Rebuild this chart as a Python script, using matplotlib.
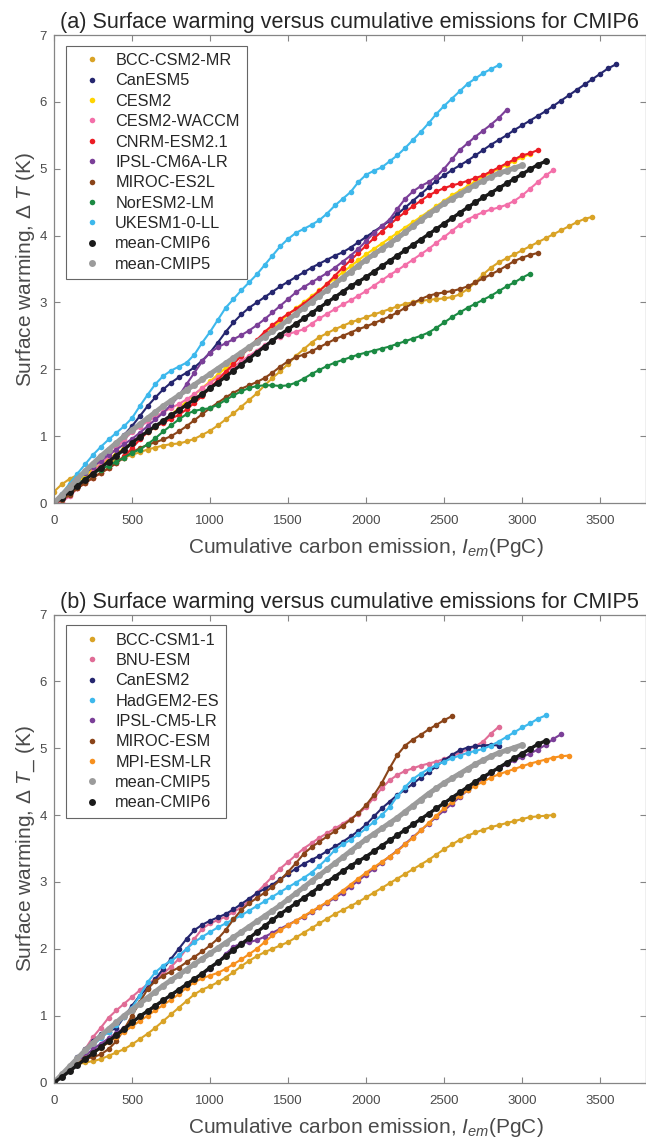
import matplotlib
matplotlib.use("Agg")
import matplotlib.pyplot as plt

plt.rcParams['font.family'] = ['Liberation Sans', 'DejaVu Sans']
plt.rcParams['mathtext.fontset'] = 'custom'
plt.rcParams['mathtext.rm'] = 'Liberation Sans'
plt.rcParams['mathtext.it'] = 'Liberation Sans:italic'

# ---------------- data ----------------
# cumulative carbon emission grid (PgC); each series uses its first len(y) entries
emission_grid = [0, 50, 100, 150, 200, 250, 300, 350, 400, 450, 500, 550, 600, 650, 700, 750,
                 800, 850, 900, 950, 1000, 1050, 1100, 1150, 1200, 1250, 1300, 1350, 1400, 1450,
                 1500, 1550, 1600, 1650, 1700, 1750, 1800, 1850, 1900, 1950, 2000, 2050, 2100,
                 2150, 2200, 2250, 2300, 2350, 2400, 2450, 2500, 2550, 2600, 2650, 2700, 2750,
                 2800, 2850, 2900, 2950, 3000, 3050, 3100, 3150, 3200, 3250, 3300, 3350, 3400,
                 3450, 3500, 3550, 3600]

# Panel (a): CMIP6 models, warming (K)
bcc_csm2_mr = [0.17, 0.28, 0.36, 0.42, 0.46, 0.5, 0.55, 0.6, 0.64, 0.68, 0.72, 0.76, 0.8, 0.83,
               0.86, 0.88, 0.89, 0.92, 0.96, 1.02, 1.08, 1.16, 1.25, 1.34, 1.44, 1.54, 1.64, 1.76,
               1.87, 1.97, 2.08, 2.2, 2.3, 2.4, 2.48, 2.54, 2.6, 2.65, 2.7, 2.74, 2.78, 2.82, 2.86,
               2.9, 2.94, 2.98, 3.0, 3.02, 3.04, 3.05, 3.06, 3.08, 3.12, 3.2, 3.3, 3.42, 3.52, 3.6,
               3.66, 3.72, 3.78, 3.84, 3.9, 3.96, 4.02, 4.08, 4.14, 4.2, 4.25, 4.28]
canesm5 = [0, 0.1, 0.22, 0.33, 0.44, 0.55, 0.66, 0.78, 0.9, 1.02, 1.15, 1.3, 1.45, 1.58, 1.7,
           1.8, 1.88, 1.95, 2.03, 2.13, 2.25, 2.4, 2.56, 2.7, 2.82, 2.92, 3.0, 3.08, 3.16, 3.24,
           3.31, 3.38, 3.45, 3.52, 3.58, 3.64, 3.7, 3.75, 3.82, 3.9, 3.98, 4.06, 4.14, 4.22, 4.32,
           4.42, 4.52, 4.62, 4.72, 4.82, 4.9, 4.98, 5.05, 5.12, 5.2, 5.28, 5.36, 5.43, 5.5, 5.58,
           5.65, 5.72, 5.79, 5.86, 5.94, 6.02, 6.1, 6.18, 6.26, 6.34, 6.42, 6.5, 6.56]
cesm2 = [0, 0.1, 0.2, 0.3, 0.4, 0.5, 0.58, 0.66, 0.74, 0.82, 0.9, 0.98, 1.06, 1.14, 1.22, 1.32,
         1.42, 1.52, 1.62, 1.72, 1.82, 1.92, 2.02, 2.12, 2.22, 2.32, 2.42, 2.52, 2.62, 2.72, 2.82,
         2.91, 3.0, 3.09, 3.18, 3.27, 3.36, 3.45, 3.54, 3.63, 3.72, 3.8, 3.88, 3.96, 4.04, 4.12,
         4.2, 4.28, 4.36, 4.44, 4.52, 4.6, 4.67, 4.74, 4.81, 4.88, 4.94, 5.0, 5.06, 5.12, 5.17,
         5.22]
cesm2_waccm = [0, 0.02, 0.1, 0.22, 0.35, 0.47, 0.58, 0.7, 0.82, 0.95, 1.06, 1.14, 1.22, 1.29,
               1.36, 1.42, 1.48, 1.55, 1.63, 1.72, 1.8, 1.88, 1.96, 2.04, 2.12, 2.2, 2.28, 2.36,
               2.43, 2.49, 2.53, 2.56, 2.6, 2.68, 2.76, 2.83, 2.9, 2.97, 3.03, 3.1, 3.17, 3.25,
               3.33, 3.41, 3.48, 3.56, 3.64, 3.72, 3.8, 3.89, 3.98, 4.07, 4.16, 4.24, 4.3, 4.35,
               4.39, 4.42, 4.46, 4.52, 4.6, 4.7, 4.8, 4.9, 4.98]
cnrm_esm2_1 = [0, 0.06, 0.14, 0.22, 0.3, 0.38, 0.45, 0.52, 0.6, 0.7, 0.82, 0.95, 1.06, 1.14,
               1.2, 1.26, 1.32, 1.4, 1.5, 1.6, 1.72, 1.84, 1.96, 2.08, 2.2, 2.32, 2.44, 2.56,
               2.66, 2.75, 2.83, 2.9, 2.98, 3.07, 3.17, 3.28, 3.4, 3.52, 3.63, 3.74, 3.85, 3.96,
               4.06, 4.16, 4.26, 4.35, 4.44, 4.52, 4.6, 4.66, 4.71, 4.75, 4.78, 4.82, 4.86, 4.9,
               4.96, 5.02, 5.08, 5.14, 5.2, 5.23, 5.28]
ipsl_cm6a_lr = [0, 0.12, 0.24, 0.35, 0.45, 0.54, 0.63, 0.72, 0.8, 0.88, 0.96, 1.05, 1.15, 1.25,
                1.35, 1.47, 1.6, 1.78, 1.95, 2.12, 2.25, 2.33, 2.39, 2.45, 2.51, 2.58, 2.66,
                2.75, 2.85, 2.95, 3.05, 3.15, 3.23, 3.3, 3.37, 3.44, 3.52, 3.61, 3.7, 3.8, 3.92,
                4.04, 4.14, 4.24, 4.4, 4.55, 4.66, 4.74, 4.8, 4.88, 5.0, 5.14, 5.28, 5.38, 5.48,
                5.57, 5.66, 5.76, 5.88]
miroc_es2l = [0, 0.04, 0.12, 0.22, 0.3, 0.38, 0.45, 0.52, 0.6, 0.68, 0.76, 0.82, 0.87, 0.91,
              0.95, 1.0, 1.07, 1.15, 1.24, 1.33, 1.42, 1.5, 1.58, 1.65, 1.71, 1.76, 1.81, 1.87,
              1.95, 2.04, 2.12, 2.18, 2.22, 2.27, 2.33, 2.39, 2.45, 2.5, 2.55, 2.6, 2.64, 2.69,
              2.74, 2.79, 2.85, 2.92, 2.99, 3.05, 3.1, 3.13, 3.15, 3.17, 3.2, 3.24, 3.3, 3.36,
              3.42, 3.48, 3.55, 3.62, 3.67, 3.71, 3.74]
noresm2_lm = [0, 0.08, 0.18, 0.28, 0.36, 0.44, 0.5, 0.56, 0.62, 0.68, 0.75, 0.8, 0.88, 0.97,
              1.07, 1.16, 1.25, 1.33, 1.38, 1.4, 1.42, 1.47, 1.54, 1.61, 1.67, 1.72, 1.75, 1.76,
              1.76, 1.75, 1.76, 1.8, 1.86, 1.93, 1.99, 2.05, 2.1, 2.14, 2.18, 2.22, 2.25, 2.28,
              2.31, 2.34, 2.38, 2.42, 2.46, 2.5, 2.55, 2.62, 2.7, 2.78, 2.85, 2.92, 2.98, 3.04,
              3.1, 3.17, 3.24, 3.3, 3.37, 3.43]
ukesm1_0_ll = [0, 0.14, 0.29, 0.44, 0.58, 0.72, 0.84, 0.95, 1.05, 1.15, 1.27, 1.45, 1.62, 1.78,
               1.9, 1.98, 2.04, 2.1, 2.22, 2.4, 2.56, 2.74, 2.92, 3.05, 3.18, 3.3, 3.42, 3.56,
               3.7, 3.84, 3.95, 4.04, 4.1, 4.16, 4.23, 4.33, 4.45, 4.55, 4.65, 4.8, 4.91, 4.97,
               5.02, 5.11, 5.2, 5.31, 5.43, 5.55, 5.68, 5.82, 5.94, 6.05, 6.16, 6.27, 6.35, 6.43,
               6.49, 6.55]
mean_cmip6 = [0, 0.08, 0.17, 0.26, 0.35, 0.44, 0.53, 0.62, 0.71, 0.8, 0.9, 0.99, 1.07, 1.15,
              1.23, 1.31, 1.39, 1.47, 1.55, 1.63, 1.72, 1.8, 1.89, 1.98, 2.07, 2.16, 2.25, 2.34,
              2.43, 2.52, 2.6, 2.68, 2.76, 2.84, 2.92, 3.0, 3.08, 3.16, 3.24, 3.31, 3.38, 3.46,
              3.54, 3.62, 3.7, 3.78, 3.86, 3.94, 4.02, 4.1, 4.18, 4.26, 4.34, 4.42, 4.5, 4.57,
              4.64, 4.71, 4.78, 4.85, 4.92, 4.99, 5.06, 5.11]
mean_cmip5 = [0, 0.12, 0.24, 0.36, 0.48, 0.59, 0.7, 0.8, 0.9, 1.0, 1.09, 1.18, 1.27, 1.36, 1.45,
              1.53, 1.61, 1.69, 1.77, 1.85, 1.93, 2.01, 2.09, 2.17, 2.25, 2.33, 2.41, 2.49, 2.57,
              2.65, 2.74, 2.83, 2.92, 3.01, 3.1, 3.19, 3.28, 3.37, 3.46, 3.55, 3.64, 3.72, 3.8,
              3.88, 3.96, 4.05, 4.14, 4.23, 4.32, 4.4, 4.48, 4.55, 4.62, 4.69, 4.76, 4.82, 4.88,
              4.93, 4.97, 5.01, 5.05]

# Panel (b): CMIP5 models, warming (K)
bcc_csm1_1 = [0, 0.1, 0.2, 0.27, 0.3, 0.32, 0.35, 0.4, 0.45, 0.5, 0.57, 0.65, 0.73, 0.82, 0.92,
              1.02, 1.12, 1.22, 1.32, 1.39, 1.44, 1.5, 1.57, 1.65, 1.74, 1.82, 1.89, 1.95, 2.0,
              2.05, 2.1, 2.17, 2.24, 2.31, 2.38, 2.45, 2.52, 2.58, 2.64, 2.7, 2.77, 2.84, 2.91,
              2.98, 3.05, 3.12, 3.19, 3.26, 3.33, 3.41, 3.49, 3.56, 3.63, 3.69, 3.74, 3.78, 3.82,
              3.85, 3.88, 3.91, 3.94, 3.97, 3.98, 3.99, 4.0]
bnu_esm = [0, 0.1, 0.22, 0.35, 0.5, 0.68, 0.82, 0.97, 1.08, 1.18, 1.28, 1.38, 1.47, 1.55, 1.63,
           1.73, 1.85, 2.0, 2.15, 2.3, 2.38, 2.43, 2.48, 2.55, 2.62, 2.72, 2.84, 2.96, 3.08, 3.2,
           3.3, 3.4, 3.5, 3.58, 3.66, 3.73, 3.8, 3.87, 3.94, 4.02, 4.12, 4.26, 4.4, 4.52, 4.6,
           4.66, 4.7, 4.74, 4.77, 4.8, 4.84, 4.88, 4.93, 4.98, 5.03, 5.1, 5.22, 5.32]
canesm2 = [0, 0.12, 0.25, 0.38, 0.5, 0.62, 0.72, 0.76, 0.82, 0.98, 1.15, 1.3, 1.42, 1.55, 1.7,
           1.85, 2.0, 2.15, 2.28, 2.36, 2.42, 2.47, 2.52, 2.59, 2.67, 2.75, 2.83, 2.9, 2.96, 3.04,
           3.12, 3.2, 3.27, 3.33, 3.39, 3.46, 3.53, 3.6, 3.68, 3.76, 3.86, 3.98, 4.1, 4.2, 4.3,
           4.38, 4.47, 4.56, 4.64, 4.73, 4.82, 4.9, 4.97, 5.01, 5.03, 5.04, 5.05, 5.04]
hadgem2_es = [0, 0.1, 0.22, 0.33, 0.45, 0.56, 0.66, 0.76, 0.86, 0.98, 1.12, 1.3, 1.5, 1.65, 1.75,
              1.82, 1.9, 2.0, 2.1, 2.18, 2.25, 2.32, 2.38, 2.44, 2.5, 2.57, 2.64, 2.71, 2.78,
              2.85, 2.92, 2.99, 3.06, 3.14, 3.24, 3.35, 3.48, 3.56, 3.63, 3.71, 3.8, 3.9, 4.0,
              4.12, 4.28, 4.42, 4.54, 4.62, 4.69, 4.75, 4.8, 4.85, 4.89, 4.93, 4.96, 4.99, 5.04,
              5.1, 5.17, 5.24, 5.31, 5.37, 5.44, 5.49]
ipsl_cm5_lr = [0, 0.1, 0.2, 0.3, 0.4, 0.5, 0.58, 0.66, 0.74, 0.82, 0.9, 0.98, 1.06, 1.14, 1.22,
               1.3, 1.38, 1.46, 1.54, 1.62, 1.7, 1.8, 1.92, 2.03, 2.08, 2.1, 2.13, 2.18, 2.24,
               2.3, 2.36, 2.42, 2.48, 2.55, 2.62, 2.69, 2.76, 2.84, 2.93, 3.02, 3.11, 3.2, 3.29,
               3.38, 3.47, 3.57, 3.67, 3.77, 3.87, 3.97, 4.07, 4.17, 4.27, 4.37, 4.46, 4.55, 4.63,
               4.7, 4.76, 4.82, 4.87, 4.92, 4.98, 5.05, 5.14, 5.21]
miroc_esm = [0, 0.12, 0.22, 0.3, 0.35, 0.38, 0.42, 0.5, 0.62, 0.8, 1.0, 1.2, 1.4, 1.52, 1.6,
             1.66, 1.72, 1.8, 1.88, 1.96, 2.05, 2.15, 2.28, 2.44, 2.58, 2.68, 2.76, 2.84, 2.93,
             3.03, 3.15, 3.28, 3.42, 3.52, 3.6, 3.68, 3.76, 3.84, 3.93, 4.03, 4.15, 4.3, 4.48,
             4.7, 4.9, 5.04, 5.13, 5.2, 5.28, 5.35, 5.42, 5.48]
mpi_esm_lr = [0, 0.1, 0.2, 0.28, 0.36, 0.44, 0.52, 0.6, 0.68, 0.76, 0.84, 0.92, 1.0, 1.08, 1.16,
              1.24, 1.32, 1.42, 1.5, 1.56, 1.6, 1.64, 1.7, 1.77, 1.84, 1.92, 2.0, 2.1, 2.2, 2.28,
              2.35, 2.42, 2.49, 2.56, 2.63, 2.7, 2.78, 2.87, 2.96, 3.05, 3.14, 3.22, 3.3, 3.38,
              3.46, 3.56, 3.66, 3.77, 3.88, 3.99, 4.1, 4.2, 4.29, 4.37, 4.44, 4.5, 4.56, 4.61,
              4.65, 4.69, 4.73, 4.77, 4.8, 4.83, 4.86, 4.88, 4.89]

labels_a = ['BCC-CSM2-MR', 'CanESM5', 'CESM2', 'CESM2-WACCM', 'CNRM-ESM2.1', 'IPSL-CM6A-LR',
            'MIROC-ES2L', 'NorESM2-LM', 'UKESM1-0-LL', 'mean-CMIP6', 'mean-CMIP5']
series_a = [bcc_csm2_mr, canesm5, cesm2, cesm2_waccm, cnrm_esm2_1, ipsl_cm6a_lr,
            miroc_es2l, noresm2_lm, ukesm1_0_ll, mean_cmip6, mean_cmip5]
colors_a = ['#D9A326', '#25266F', '#FFD400', '#F36FA9', '#EC1C24', '#7B3F98',
            '#8A4419', '#1B8A43', '#3DB8EC', '#1A1A1A', '#9B9B9B']

labels_b = ['BCC-CSM1-1', 'BNU-ESM', 'CanESM2', 'HadGEM2-ES', 'IPSL-CM5-LR', 'MIROC-ESM',
            'MPI-ESM-LR', 'mean-CMIP5', 'mean-CMIP6']
series_b = [bcc_csm1_1, bnu_esm, canesm2, hadgem2_es, ipsl_cm5_lr, miroc_esm,
            mpi_esm_lr, mean_cmip5, mean_cmip6]
colors_b = ['#D9A326', '#E06C96', '#25266F', '#3DB8EC', '#7B3F98', '#8A4419',
            '#F7901E', '#9B9B9B', '#1A1A1A']

titles = ['(a) Surface warming versus cumulative emissions for CMIP6',
          '(b) Surface warming versus cumulative emissions for CMIP5']
ylabels = ['Surface warming, Δ $T$ (K)', 'Surface warming, Δ $T$_ (K)']
xlabel = 'Cumulative carbon emission, $I_{em}$(PgC)'
xticks = [0, 500, 1000, 1500, 2000, 2500, 3000, 3500]
yticks = [0, 1, 2, 3, 4, 5, 6, 7]

# ---------------- figure ----------------
W, H = 646, 1137
fig = plt.figure(figsize=(W / 100, H / 100), dpi=100)
ax_a = fig.add_axes([54 / W, 1 - 503 / H, 591.5 / W, 468 / H])
ax_b = fig.add_axes([54 / W, 1 - 1082.5 / H, 591.5 / W, 468 / H])

spine_col = '#858585'
text_col = '#4A4A4A'

for ax, labels, series, colors, title, ylab in [
        (ax_a, labels_a, series_a, colors_a, titles[0], ylabels[0]),
        (ax_b, labels_b, series_b, colors_b, titles[1], ylabels[1])]:
    for lab, y, c in zip(labels, series, colors):
        x = emission_grid[:len(y)]
        is_mean = lab.startswith('mean')
        if lab == 'mean-CMIP5':
            lw = 3.6
        elif lab == 'mean-CMIP6':
            lw = 2.4
        else:
            lw = 1.5
        ax.plot(x, y, '-', color=c, lw=lw, solid_capstyle='round', zorder=2)
        ax.plot(x, y, 'o', color=c, ms=5.0 if is_mean else 4.0, mew=0,
                label=lab, zorder=2)
    ax.set_xlim(0, 3790)
    ax.set_ylim(0, 7)
    ax.set_xticks(xticks)
    ax.set_yticks(yticks)
    ax.tick_params(direction='in', length=4, width=0.8, color=spine_col,
                   labelcolor=text_col, labelsize=9.5, top=True, right=True)
    ax.tick_params(axis='x', pad=9)
    ax.tick_params(axis='y', pad=5)
    for s in ax.spines.values():
        s.set_color(spine_col)
        s.set_linewidth(0.9)
    ax.set_title(title, fontsize=15.6, color='#262626', pad=5)
    ax.set_xlabel(xlabel, fontsize=15, color=text_col)
    ax.xaxis.set_label_coords(0.527, -0.071)
    ax.set_ylabel(ylab, fontsize=15, color=text_col, labelpad=2)
    leg = ax.legend(loc='upper left', bbox_to_anchor=(0.0197, 0.977), borderaxespad=0,
                    fontsize=11.7, frameon=True, fancybox=False, edgecolor='#404040',
                    handlelength=2.3, handletextpad=0.3, borderpad=0.45,
                    labelspacing=0.33, markerscale=1.0)
    leg.get_frame().set_linewidth(0.8)
    for t in leg.get_texts():
        t.set_color('#262626')

fig.savefig('out.png', dpi=100)
